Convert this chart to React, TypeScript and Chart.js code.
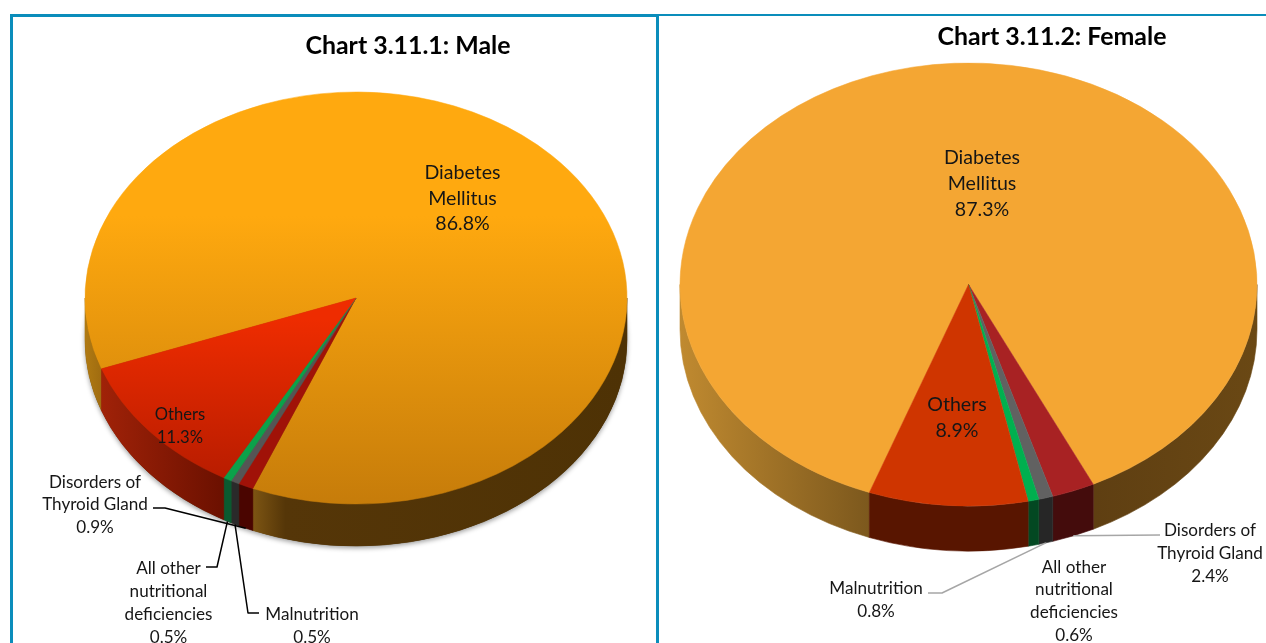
import React, { useEffect, useRef } from "react";
import { Chart, registerables } from "chart.js";

Chart.register(...registerables);

// ---- data ----
const categories = [
  "Diabetes Mellitus",
  "Disorders of Thyroid Gland",
  "Malnutrition",
  "All other nutritional deficiencies",
  "Others",
];
const labelLines = [
  ["Diabetes", "Mellitus"],
  ["Disorders of", "Thyroid Gland"],
  ["Malnutrition"],
  ["All other", "nutritional", "deficiencies"],
  ["Others"],
];
const maleValues = [86.8, 0.9, 0.5, 0.5, 11.3];
const femaleValues = [87.3, 2.4, 0.8, 0.6, 8.9];
const maleTitle = "Chart 3.11.1: Male";
const femaleTitle = "Chart 3.11.2: Female";

// ---- styles and layout ----
type Stop = [number, string];
const FONT = "Lato, 'Open Sans', sans-serif";
const BLUE = "#0a8dbb";

const maleCfg = {
  title: maleTitle,
  values: maleValues,
  canvasLeft: 0,
  canvasWidth: 816,
  titlePad: 31.2,
  rotation: 249.9,
  cx: 356,
  cy: 298,
  rx: 271,
  ry: 206,
  depth: 42,
  shadow: true,
  top: [
    [[0, "#ffa90f"], [0.3, "#ffa90f"], [1, "#c67c0a"]],
    [[0, "#a01208"], [1, "#a01208"]],
    [[0, "#555555"], [1, "#555555"]],
    [[0, "#0ba14a"], [1, "#0ba14a"]],
    [[0, "#ee2c00"], [0.55, "#ee2c00"], [1, "#b01a00"]],
  ] as Stop[][],
  wall: [
    [[0, "#b07a12"], [0.03, "#a06c10"], [0.31, "#7d5513"], [0.37, "#553608"], [1, "#4e3205"]],
    [[0, "#4a0500"], [1, "#4a0500"]],
    [[0, "#2a2a2a"], [1, "#2a2a2a"]],
    [[0, "#0a5a30"], [1, "#0a5a30"]],
    [[0.03, "#a02208"], [0.26, "#6a1000"]],
  ] as Stop[][],
  leaderColor: "#000000",
  leaderWidth: 1.5,
  labels: [
    { i: 0, x: 462.5, y: 173, step: 25.5, size: 19.6 },
    { i: 1, x: 95, y: 482, step: 22.5, size: 17.1 },
    { i: 2, x: 312, y: 614, step: 23, size: 17.1 },
    { i: 3, x: 168.5, y: 568, step: 23, size: 17.1 },
    { i: 4, x: 180, y: 415, step: 23, size: 16.6 },
  ],
  leaders: [
    { i: 1, path: [[153, 508], [165, 508]] },
    { i: 2, path: [[259, 613], [248, 613]] },
    { i: 3, path: [[206, 567], [217, 567]] },
  ],
};

const femaleCfg = {
  title: femaleTitle,
  values: femaleValues,
  canvasLeft: 652,
  canvasWidth: 800,
  titlePad: 22.2,
  rotation: 200.1,
  cx: 968.5,
  cy: 284.5,
  rx: 288.5,
  ry: 221.5,
  depth: 45,
  shadow: false,
  top: [
    [[0, "#f4a633"], [1, "#f4a633"]],
    [[0, "#a82223"], [1, "#a82223"]],
    [[0, "#616161"], [1, "#616161"]],
    [[0, "#00b04f"], [1, "#00b04f"]],
    [[0, "#cf3500"], [1, "#cf3500"]],
  ] as Stop[][],
  wall: [
    [[0, "#c08a30"], [0.33, "#7c581d"], [0.72, "#5f3f12"], [1, "#6a4814"]],
    [[0, "#440c0c"], [1, "#440c0c"]],
    [[0, "#262626"], [1, "#262626"]],
    [[0, "#034822"], [1, "#034822"]],
    [[0, "#581500"], [1, "#581500"]],
  ] as Stop[][],
  leaderColor: "#a6a6a6",
  leaderWidth: 1.5,
  labels: [
    { i: 0, x: 982, y: 158, step: 26, size: 19.6 },
    { i: 1, x: 1210, y: 530, step: 23, size: 17.1 },
    { i: 2, x: 876, y: 588, step: 23, size: 17.1 },
    { i: 3, x: 1074, y: 567, step: 22.7, size: 17.1 },
    { i: 4, x: 957, y: 405, step: 26, size: 19.6 },
  ],
  leaders: [
    { i: 1, path: [[1160, 535]] },
    { i: 2, path: [[928, 593], [942, 593]] },
  ],
};

type Cfg = typeof maleCfg;

function fillStops(g: CanvasGradient, stops: Stop[]) {
  stops.forEach(([o, c]) => g.addColorStop(o, c));
  return g;
}

function makePie3d(cfg: Cfg) {
  const offX = cfg.canvasLeft;
  return {
    id: "pie3d",
    beforeDatasetsDraw(chart: any) {
      const ctx: CanvasRenderingContext2D = chart.ctx;
      const arcs = chart.getDatasetMeta(0).data;
      const base = arcs[0].getProps(["x", "y", "outerRadius"]);
      const cx = cfg.cx - offX;
      const { cy, rx, ry, depth } = cfg;

      if (cfg.shadow) {
        ctx.save();
        ctx.shadowColor = "rgba(0,0,0,0.4)";
        ctx.shadowBlur = 5;
        ctx.shadowOffsetY = 2;
        ctx.fillStyle = "#4e3205";
        ctx.beginPath();
        ctx.ellipse(cx, cy + depth, rx, ry, 0, 0, Math.PI * 2);
        ctx.fill();
        ctx.restore();
      }

      // front wall of the disc, one piece per slice
      arcs.forEach((arc: any, i: number) => {
        const { startAngle, endAngle } = arc.getProps(["startAngle", "endAngle"]);
        const grad = fillStops(ctx.createLinearGradient(cx - rx, 0, cx + rx, 0), cfg.wall[i]);
        for (let k = -1; k <= 2; k++) {
          const a = Math.max(startAngle, 2 * Math.PI * k);
          const b = Math.min(endAngle, 2 * Math.PI * k + Math.PI);
          if (a >= b) continue;
          ctx.beginPath();
          ctx.ellipse(cx, cy, rx, ry, 0, a, b);
          ctx.ellipse(cx, cy + depth, rx, ry, 0, b, a, true);
          ctx.closePath();
          ctx.fillStyle = grad;
          ctx.strokeStyle = grad;
          ctx.lineWidth = 0.6;
          ctx.fill();
          ctx.stroke();
        }
      });

      // squash Chart.js' own circular arcs into the tilted top face
      ctx.save();
      ctx.translate(cx, cy);
      ctx.scale(1, ry / rx);
      ctx.translate(-base.x, -base.y);
    },
    afterDatasetsDraw(chart: any) {
      const ctx: CanvasRenderingContext2D = chart.ctx;
      ctx.restore();
      const arcs = chart.getDatasetMeta(0).data;
      const cx = cfg.cx - offX;
      const { cy, rx, ry, depth } = cfg;

      ctx.save();
      ctx.strokeStyle = cfg.leaderColor;
      ctx.lineWidth = cfg.leaderWidth;
      ctx.lineJoin = "round";
      cfg.leaders.forEach((l) => {
        const { startAngle, endAngle } = arcs[l.i].getProps(["startAngle", "endAngle"]);
        const mid = (startAngle + endAngle) / 2;
        ctx.beginPath();
        l.path.forEach(([x, y], n) => {
          if (n === 0) ctx.moveTo(x - offX, y);
          else ctx.lineTo(x - offX, y);
        });
        ctx.lineTo(cx + rx * Math.cos(mid), cy + ry * Math.sin(mid) + depth);
        ctx.stroke();
      });

      ctx.fillStyle = "#161616";
      ctx.textAlign = "center";
      ctx.textBaseline = "middle";
      cfg.labels.forEach((l) => {
        ctx.font = `${l.size}px ${FONT}`;
        const lines = [...labelLines[l.i], cfg.values[l.i].toFixed(1) + "%"];
        lines.forEach((t, n) => ctx.fillText(t, l.x - offX, l.y + n * l.step));
      });
      ctx.restore();
    },
  };
}

function Pie({ cfg }: { cfg: Cfg }) {
  const ref = useRef<HTMLCanvasElement>(null);
  useEffect(() => {
    const chart = new Chart(ref.current as HTMLCanvasElement, {
      type: "pie",
      data: {
        labels: categories,
        datasets: [
          {
            data: cfg.values,
            clip: false,
            borderWidth: 0.6,
            radius: cfg.rx,
            backgroundColor: (c: any) => topPaint(c, cfg),
            borderColor: (c: any) => topPaint(c, cfg),
          } as any,
        ],
      },
      options: {
        responsive: false,
        animation: false,
        events: [],
        rotation: cfg.rotation,
        radius: cfg.rx,
        layout: { padding: 0 },
        plugins: {
          legend: { display: false },
          tooltip: { enabled: false },
          title: {
            display: true,
            text: cfg.title,
            color: "#000000",
            font: { family: FONT, size: 24.9, weight: "bold", lineHeight: 1.2 },
            padding: { top: cfg.titlePad, bottom: 0 },
          },
        },
      } as any,
      plugins: [makePie3d(cfg)],
    });
    return () => chart.destroy();
  }, [cfg]);
  return (
    <canvas
      ref={ref}
      width={cfg.canvasWidth}
      height={643}
      style={{ position: "absolute", left: cfg.canvasLeft, top: 0, display: "block" }}
    />
  );
}

function topPaint(c: any, cfg: Cfg) {
  const stops = cfg.top[c.dataIndex ?? 0];
  const area = c.chart.chartArea;
  if (!area) return stops[0][1];
  const mid = (area.top + area.bottom) / 2;
  return fillStops(c.chart.ctx.createLinearGradient(0, mid - cfg.rx, 0, mid + cfg.rx), stops);
}

function Rule(props: { left: number; top: number; width: number; height: number }) {
  return <div style={{ position: "absolute", background: BLUE, ...props }} />;
}

export default function App() {
  return (
    <div
      style={{
        position: "fixed",
        left: 0,
        top: 0,
        width: 1266,
        height: 643,
        overflow: "hidden",
        background: "#ffffff",
      }}
    >
      <Rule left={11} top={14} width={647} height={3} />
      <Rule left={658} top={14} width={608} height={2} />
      <Rule left={10} top={14} width={3} height={629} />
      <Rule left={656} top={14} width={3} height={629} />
      <Pie cfg={maleCfg} />
      <Pie cfg={femaleCfg} />
    </div>
  );
}
